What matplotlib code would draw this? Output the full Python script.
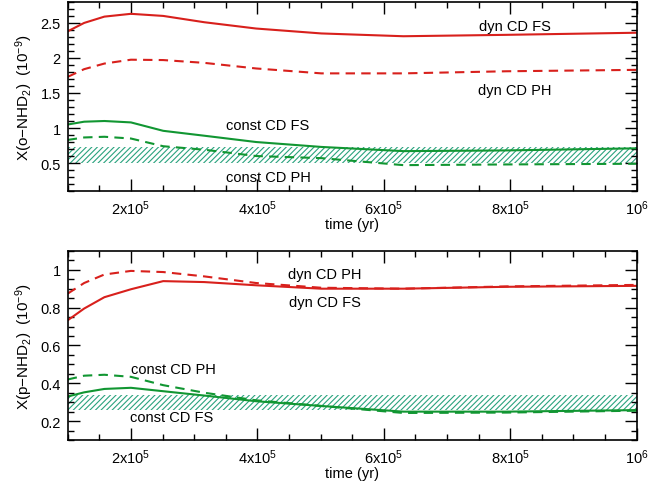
import numpy as np
import matplotlib
matplotlib.use("Agg")
import matplotlib.pyplot as plt
from matplotlib.ticker import MultipleLocator, FixedLocator

plt.rcParams['font.family'] = ['Liberation Sans', 'DejaVu Sans']
plt.rcParams['mathtext.fontset'] = 'custom'
plt.rcParams['mathtext.rm'] = 'Liberation Sans'
plt.rcParams['mathtext.it'] = 'Liberation Sans'
plt.rcParams['hatch.linewidth'] = 0.8

# time grid (yr)
time = [1.0e5, 1.26e5, 1.58e5, 2.0e5, 2.51e5, 3.16e5, 3.98e5, 5.01e5, 6.31e5, 7.94e5, 1.0e6]

# ortho-NHD2 (1e-9)
o_dyn_fs = [2.38, 2.50, 2.59, 2.63, 2.60, 2.51, 2.42, 2.35, 2.31, 2.33, 2.36]
o_dyn_ph = [1.73, 1.84, 1.92, 1.975, 1.97, 1.93, 1.85, 1.78, 1.78, 1.81, 1.83]
o_const_fs = [1.05, 1.09, 1.10, 1.08, 0.96, 0.89, 0.80, 0.73, 0.67, 0.68, 0.71]
o_const_ph = [0.83, 0.865, 0.875, 0.85, 0.74, 0.69, 0.60, 0.57, 0.47, 0.48, 0.49]
o_obs = [0.50, 0.73]

# para-NHD2 (1e-9)
p_dyn_fs = [0.733, 0.795, 0.855, 0.897, 0.94, 0.935, 0.918, 0.90, 0.90, 0.91, 0.915]
p_dyn_ph = [0.874, 0.93, 0.975, 0.994, 0.988, 0.965, 0.93, 0.905, 0.90, 0.912, 0.92]
p_const_fs = [0.33, 0.352, 0.37, 0.376, 0.358, 0.335, 0.305, 0.28, 0.25, 0.25, 0.258]
p_const_ph = [0.42, 0.44, 0.445, 0.434, 0.39, 0.35, 0.31, 0.28, 0.243, 0.245, 0.255]
p_obs = [0.26, 0.34]

xticks = [2e5, 4e5, 6e5, 8e5, 1e6]
xticklabels = ['2x10$^{5}$', '4x10$^{5}$', '6x10$^{5}$', '8x10$^{5}$', '10$^{6}$']

RED = '#d8201c'
GREEN = '#119632'
HATCH = '#2aa37e'
LW = 1.5
DASH = (0, (4.5, 3))

fig = plt.figure(figsize=(6.71, 4.85), dpi=100)
ax1 = fig.add_axes([0.1009, 0.604, 0.848, 0.390])
ax2 = fig.add_axes([0.1009, 0.0907, 0.848, 0.390])


def style(ax, ymin, ymax, ymin_step, yticks, ylabels):
    ax.set_xlim(1e5, 1e6)
    ax.set_ylim(ymin, ymax)
    ax.xaxis.set_major_locator(FixedLocator(xticks))
    ax.set_xticklabels(xticklabels)
    ax.xaxis.set_minor_locator(MultipleLocator(5e4))
    ax.yaxis.set_major_locator(FixedLocator(yticks))
    ax.set_yticklabels(ylabels)
    ax.yaxis.set_minor_locator(MultipleLocator(ymin_step))
    ax.tick_params(which='both', direction='in', top=True, right=True,
                   labelsize=10.5, width=1.0, pad=5)
    ax.tick_params(which='major', length=8.5)
    ax.tick_params(which='minor', length=4.5)
    for s in ax.spines.values():
        s.set_linewidth(1.2)
    ax.set_xlabel('time (yr)', fontsize=10.5, labelpad=0)


def draw(ax, dfs, dph, cfs, cph, obs):
    ax.fill_between([1e5, 1e6], obs[0], obs[1], facecolor='none',
                    edgecolor=HATCH, hatch='//////', linewidth=0)
    ax.plot(time, dfs, color=RED, lw=LW)
    ax.plot(time, dph, color=RED, lw=LW, linestyle=DASH)
    ax.plot(time, cfs, color=GREEN, lw=LW)
    ax.plot(time, cph, color=GREEN, lw=LW, linestyle=DASH)


draw(ax1, o_dyn_fs, o_dyn_ph, o_const_fs, o_const_ph, o_obs)
style(ax1, 0.1, 2.8, 0.1, [0.5, 1, 1.5, 2, 2.5], ['0.5', '1', '1.5', '2', '2.5'])
ax1.set_ylabel('X(o$-$NHD$_{2}$)  (10$^{-9}$)', fontsize=11)
ax1.yaxis.set_label_coords(-0.058, 0.5)
ax1.text(8.07e5, 2.45, 'dyn CD FS', ha='center', va='center', fontsize=10.5)
ax1.text(8.07e5, 1.547, 'dyn CD PH', ha='center', va='center', fontsize=10.5)
ax1.text(4.16e5, 1.047, 'const CD FS', ha='center', va='center', fontsize=10.5)
ax1.text(4.18e5, 0.30, 'const CD PH', ha='center', va='center', fontsize=10.5)

draw(ax2, p_dyn_fs, p_dyn_ph, p_const_fs, p_const_ph, p_obs)
style(ax2, 0.1, 1.1, 0.05, [0.2, 0.4, 0.6, 0.8, 1.0], ['0.2', '0.4', '0.6', '0.8', '1'])
ax2.set_ylabel('X(p$-$NHD$_{2}$)  (10$^{-9}$)', fontsize=11)
ax2.yaxis.set_label_coords(-0.058, 0.5)
ax2.text(5.07e5, 0.979, 'dyn CD PH', ha='center', va='center', fontsize=10.5)
ax2.text(5.07e5, 0.83, 'dyn CD FS', ha='center', va='center', fontsize=10.5)
ax2.text(2.67e5, 0.473, 'const CD PH', ha='center', va='center', fontsize=10.5)
ax2.text(2.65e5, 0.223, 'const CD FS', ha='center', va='center', fontsize=10.5)

fig.savefig('out.png', dpi=100)
